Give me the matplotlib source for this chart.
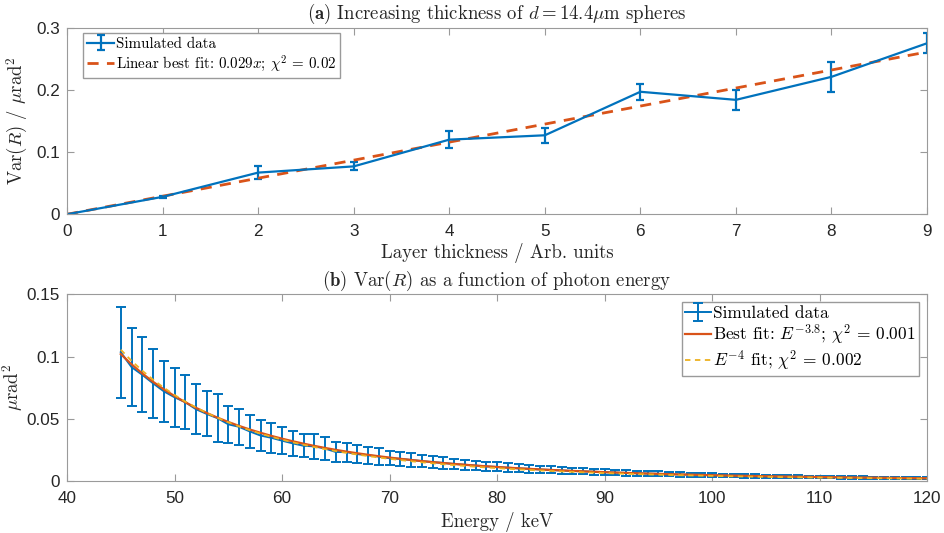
import numpy as np
import matplotlib
matplotlib.use("Agg")
import matplotlib.pyplot as plt

# (a) layer thickness
thickness = [0, 1, 2, 3, 4, 5, 6, 7, 8, 9]
var_a = [0.0, 0.028, 0.067, 0.077, 0.120, 0.127, 0.197, 0.184, 0.221, 0.275]
err_a = [0.0, 0.002, 0.010, 0.0065, 0.014, 0.012, 0.0125, 0.016, 0.0246, 0.016]
slope_a = 0.029

# (b) photon energy
energy = list(range(45, 121))
var_b = [0.1035, 0.0916, 0.0854, 0.0786, 0.0722, 0.0674, 0.0634, 0.0578, 0.0540, 0.0506,
         0.0457, 0.0437, 0.0400, 0.0367, 0.0349, 0.0326, 0.0304, 0.0285, 0.0280, 0.0263,
         0.0235, 0.0234, 0.0218, 0.0209, 0.0198, 0.0185, 0.0180, 0.0171, 0.0162, 0.0154,
         0.0147, 0.0139, 0.0133, 0.0126, 0.0120, 0.0115, 0.0109, 0.0104, 0.0100, 0.0095,
         0.0091, 0.0087, 0.0083, 0.0080, 0.0077, 0.0073, 0.0070, 0.0067, 0.0065, 0.0062,
         0.0060, 0.0057, 0.0055, 0.0053, 0.0051, 0.0049, 0.0047, 0.0046, 0.0044, 0.0042,
         0.0041, 0.0039, 0.0038, 0.0037, 0.0035, 0.0034, 0.0033, 0.0032, 0.0031, 0.0030,
         0.0029, 0.0028, 0.0027, 0.0026, 0.0025, 0.0025]
err_b = [0.0365, 0.0310, 0.0300, 0.0275, 0.0246, 0.0236, 0.0217, 0.0200, 0.0180, 0.0190,
         0.0150, 0.0143, 0.0130, 0.0125, 0.0119, 0.0110, 0.0100, 0.0092, 0.0100, 0.0090,
         0.0083, 0.0077, 0.0074, 0.0070, 0.0066, 0.0057, 0.0056, 0.0053, 0.0050, 0.0048,
         0.0046, 0.0043, 0.0041, 0.0039, 0.0037, 0.0036, 0.0034, 0.0032, 0.0031, 0.0029,
         0.0028, 0.0027, 0.0026, 0.0025, 0.0024, 0.0023, 0.0022, 0.0021, 0.0020, 0.0019,
         0.0019, 0.0018, 0.0017, 0.0016, 0.0016, 0.0015, 0.0015, 0.0014, 0.0014, 0.0013,
         0.0013, 0.0012, 0.0012, 0.0011, 0.0011, 0.0011, 0.0010, 0.0010, 0.0010, 0.0009,
         0.0009, 0.0009, 0.0008, 0.0008, 0.0008, 0.0008]
# fitted power laws: amplitude at 45 keV and exponent
best_amp, best_exp = 0.102, -3.8
e4_amp, e4_exp = 0.1055, -4.0

blue = "#0072BD"
orange = "#D95319"
yellow = "#EDB120"
axcol = "#9a9a9a"
txtcol = "#262626"

plt.rcParams["mathtext.fontset"] = "cm"
plt.rcParams["axes.unicode_minus"] = False
serif = "cmr10"
lab_size = 13.5

fig = plt.figure(figsize=(9.44, 5.33), dpi=100)
ax1 = fig.add_axes([0.071, 0.598, 0.911, 0.350])
ax2 = fig.add_axes([0.071, 0.097, 0.911, 0.351])


def style(ax):
    for s in ax.spines.values():
        s.set_color(axcol)
        s.set_linewidth(0.8)
    ax.tick_params(direction="in", top=True, right=True, length=5, width=0.8,
                   color=axcol, labelcolor=txtcol, labelsize=12.3)
    ax.tick_params(axis="x", pad=7)
    ax.tick_params(axis="y", pad=5)
    for lab in ax.get_xticklabels() + ax.get_yticklabels():
        lab.set_fontfamily("Liberation Sans")


# panel (a)
h_data = ax1.errorbar(thickness, var_a, yerr=err_a, color=blue, lw=1.6, capsize=3,
                      capthick=1.6, elinewidth=1.6, label="Simulated data")
x_fit = np.array([thickness[0], thickness[-1]])
h_fit, = ax1.plot(x_fit, slope_a * x_fit, "--", color=orange, lw=2.0, dashes=(4, 3),
                  label=r"Linear best fit: 0.029$x$; $\chi^2$ = 0.02")
ax1.set_xlim(0, 9)
ax1.set_ylim(0, 0.3)
ax1.set_xticks(range(0, 10))
ax1.set_yticks([0, 0.1, 0.2, 0.3])
ax1.set_yticklabels(["0", "0.1", "0.2", "0.3"])
style(ax1)
ax1.set_xlabel("Layer thickness / Arb. units", fontfamily=serif, fontsize=lab_size,
               labelpad=3, color=txtcol)
ax1.set_ylabel(r"Var$(R)$ / $\mu$rad$^2$", fontfamily=serif, fontsize=lab_size, color=txtcol)
ax1.yaxis.set_label_coords(-0.043, 0.5)
ax1.set_title(r"$\mathbf{(a)}$ Increasing thickness of $d = 14.4\mu$m spheres",
              fontfamily=serif, fontsize=lab_size, pad=6, color=txtcol)
ax1.legend([h_data, h_fit], [h_data.get_label(), h_fit.get_label()],
           loc="upper left", bbox_to_anchor=(0.019, 0.97), prop={"family": serif, "size": 10.8},
           fancybox=False, edgecolor="#9a9a9a", framealpha=1, borderpad=0.25,
           handlelength=1.8, handletextpad=0.1, labelspacing=0.2, borderaxespad=0)

# panel (b)
e = np.array(energy, dtype=float)
h_sim = ax2.errorbar(energy, var_b, yerr=err_b, color=blue, lw=1.4, capsize=3.3,
                     capthick=1.4, elinewidth=1.4, label="Simulated data", zorder=2)
h_best, = ax2.plot(e, best_amp * (e / 45.0) ** best_exp, color=orange, lw=1.6, zorder=3,
                   label=r"Best fit: $E^{-3.8}$; $\chi^2$ = 0.001")
h_e4, = ax2.plot(e, e4_amp * (e / 45.0) ** e4_exp, "--", color=yellow, lw=1.3,
                 dashes=(3, 2.5), zorder=4, label=r"$E^{-4}$ fit; $\chi^2$ = 0.002")
ax2.set_xlim(40, 120)
ax2.set_ylim(0, 0.15)
ax2.set_xticks(range(40, 121, 10))
ax2.set_yticks([0, 0.05, 0.1, 0.15])
ax2.set_yticklabels(["0", "0.05", "0.1", "0.15"])
style(ax2)
ax2.set_xlabel("Energy / keV", fontfamily=serif, fontsize=lab_size, labelpad=4, color=txtcol)
ax2.set_ylabel(r"$\mu$rad$^2$", fontfamily=serif, fontsize=lab_size, color=txtcol)
ax2.yaxis.set_label_coords(-0.049, 0.5)
ax2.set_title(r"$\mathbf{(b)}$ Var$(R)$ as a function of photon energy",
              fontfamily=serif, fontsize=lab_size, pad=6, color=txtcol)
ax2.legend([h_sim, h_best, h_e4], [h_sim.get_label(), h_best.get_label(), h_e4.get_label()],
           loc="upper right", bbox_to_anchor=(0.991, 0.957), prop={"family": serif, "size": 12.5},
           fancybox=False, edgecolor="#9a9a9a", framealpha=1, borderpad=0.2,
           handlelength=1.5, handletextpad=0.1, labelspacing=0.1, borderaxespad=0)

fig.savefig("out.png", dpi=100)
